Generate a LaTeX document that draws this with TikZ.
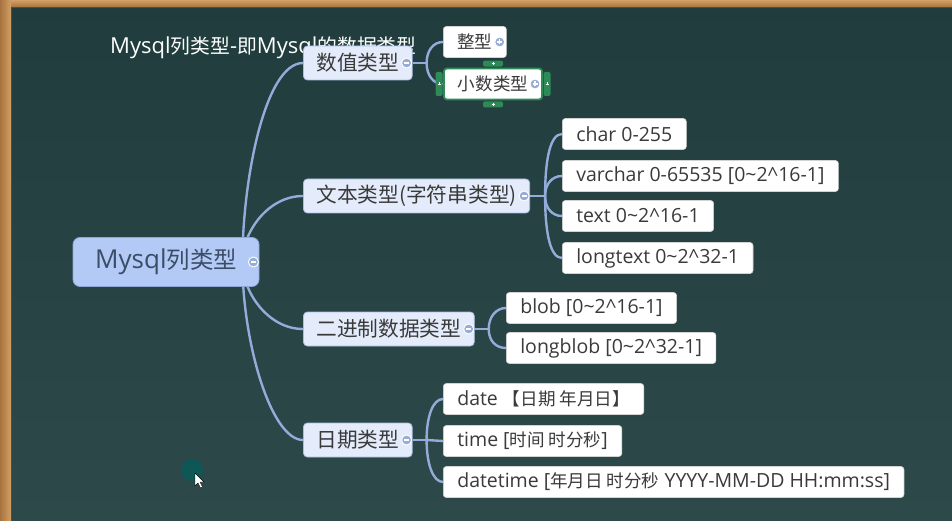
\documentclass[tikz,border=0pt]{standalone}
\usepackage{fontspec}
\setmainfont{Open Sans}
\newfontfamily\zhfont[Scale=0.9]{Noto Sans CJK SC}
\newcommand{\zh}[1]{{\zhfont #1}}
\usetikzlibrary{calc}

\pgfdeclarelayer{boardlayer}
\pgfdeclarelayer{linklayer}
\pgfsetlayers{boardlayer,linklayer,main}

\definecolor{board}{HTML}{2D4949}
\definecolor{boardtop}{HTML}{203C3D}
\definecolor{wood}{HTML}{A8733F}
\definecolor{woodlight}{HTML}{D2A066}
\definecolor{linkblue}{HTML}{93ACDA}
\definecolor{rootfill}{HTML}{B2CAF5}
\definecolor{rootdraw}{HTML}{8EA8DA}
\definecolor{rootink}{HTML}{3C4D66}
\definecolor{midfill}{HTML}{E4ECFB}
\definecolor{middraw}{HTML}{A9BDE2}
\definecolor{foldblue}{HTML}{98ACD6}
\definecolor{selgreen}{HTML}{2E8B57}
\definecolor{inktext}{HTML}{3A3A3A}
\definecolor{dotteal}{HTML}{0F5757}

\begin{document}
\begin{tikzpicture}[x=1pt, y=-1pt,
    every node/.style={inner sep=0pt},
    rootbox/.style={draw=rootdraw, fill=rootfill, rounded corners=7pt, line width=0.8pt,
                    minimum width=186pt, minimum height=49pt, text=rootink,
                    font=\fontsize{26}{30}\selectfont},
    topic/.style={draw=middraw, fill=midfill, rounded corners=4pt, line width=0.8pt,
                  minimum height=34pt, inner xsep=13pt, text=inktext, anchor=west,
                  font=\fontsize{23}{26}\selectfont\zhfont},
    leaf/.style={draw=gray!35, fill=white, rounded corners=3pt, line width=0.6pt,
                 minimum height=31pt, inner xsep=14pt, text=inktext, anchor=west,
                 font=\fontsize{19.5}{22}\selectfont},
    branch/.style={draw=linkblue, line width=2.4pt},
    foldminus/.style={circle, fill=foldblue, draw=white, line width=0.9pt, minimum size=10pt,
                      text=white, node contents={\rule[-0.6pt]{5pt}{1.2pt}}},
    foldplus/.style={circle, fill=foldblue, draw=white, line width=0.9pt, minimum size=10pt,
                     text=white, node contents={\makebox[0pt]{\rule[-0.6pt]{5pt}{1.2pt}}\makebox[0pt]{\rule[-2.5pt]{1.2pt}{5pt}}}},
    seltab/.style={fill=selgreen, rounded corners=2pt, text=white,
                   node contents={\makebox[0pt]{\rule[-0.3pt]{3pt}{0.6pt}}\makebox[0pt]{\rule[-1.5pt]{0.6pt}{3pt}}}},
]
    \useasboundingbox (0,0) rectangle (952,521);

    % board and frame
    \begin{pgfonlayer}{boardlayer}
    \shade[top color=boardtop, bottom color=board] (0,0) rectangle (952,521);
    \shade[top color=woodlight, bottom color=wood] (0,0) rectangle (952,7);
    \shade[left color=wood, right color=woodlight] (0,0) rectangle (11,521);
    \draw[black!70, line width=1pt] (11.5,7.5) -- (952,7.5);
    \draw[black!70, line width=1pt] (11.5,7.5) -- (11.5,521);
    \fill[dotteal] (192,470) circle (11);
    \end{pgfonlayer}

    \node[anchor=west, text=white, font=\fontsize{22}{24}\selectfont] (title) at (110,48)
        {Mysql\zh{列类型}-\zh{即}Mysql\zh{的数据类型}};

    % nodes
    \node[rootbox] (root) at (166,262) {Mysql\zh{列类型}};

    \node[topic] (num) at (303,63) {数值类型};
    \node[topic] (str) at (303,196) {文本类型(字符串类型)};
    \node[topic] (bin) at (303,329) {二进制数据类型};
    \node[topic] (date) at (303,440) {日期类型};

    \node[leaf] (int) at (443,42) {\zh{整型}\hspace{4pt}};
    \node[leaf, draw=selgreen, line width=1.8pt] (dec) at (443,84) {\zh{小数类型}\hspace{6pt}};

    \node[leaf] (char) at (562,134) {char 0-255};
    \node[leaf] (varchar) at (562,176) {varchar 0-65535 [0\textasciitilde 2\textasciicircum 16-1]};
    \node[leaf] (text) at (562,216) {text 0\textasciitilde 2\textasciicircum 16-1};
    \node[leaf] (longtext) at (562,258) {longtext 0\textasciitilde 2\textasciicircum 32-1};

    \node[leaf] (blob) at (506,308) {blob [0\textasciitilde 2\textasciicircum 16-1]};
    \node[leaf] (longblob) at (506,348) {longblob [0\textasciitilde 2\textasciicircum 32-1]};

    \node[leaf] (dday) at (443,399) {date \zh{【日期 年月日】}};
    \node[leaf] (dtime) at (443,441) {time [\zh{时间 时分秒}]};
    \node[leaf] (ddatetime) at (443,482) {datetime [\zh{年月日 时分秒} YYYY-MM-DD HH:mm:ss]};

    % fold buttons
    \node (froot) at ($(root.east)+(-6,0)$) [foldminus];
    \node (fnum) at ($(num.east)+(-6,0)$) [foldminus];
    \node (fstr) at ($(str.east)+(-6,0)$) [foldminus];
    \node (fbin) at ($(bin.east)+(-6,0)$) [foldminus];
    \node (fdate) at ($(date.east)+(-6,0)$) [foldminus];
    \node (fint) at ($(int.east)+(-7,0)$) [foldplus];
    \node (fdec) at ($(dec.east)+(-8,0)$) [foldplus];

    % selection handles
    \node (tabn) at ($(dec.north)+(0,-4)$) [seltab, minimum width=20pt, minimum height=6pt];
    \node (tabs) at ($(dec.south)+(0,4)$) [seltab, minimum width=20pt, minimum height=6pt];
    \node (tabw) at ($(dec.west)+(-4,0)$) [seltab, minimum width=7pt, minimum height=24pt];
    \node (tabe) at ($(dec.east)+(4,0)$) [seltab, minimum width=7pt, minimum height=24pt];

    % connectors
    \coordinate (hub) at ($(root.east)+(-17,0)$);
    \coordinate (jnum) at ($(num.east)+(14,0)$);
    \coordinate (jstr) at ($(str.east)+(15,0)$);
    \coordinate (jbin) at ($(bin.east)+(14,0)$);
    \coordinate (jdate) at ($(date.east)+(14,0)$);
    \begin{pgfonlayer}{linklayer}
    \draw[branch] (hub) .. controls +(0,-82) and +(-38,0) .. (num.west);
    \draw[branch] (hub) .. controls +(0,-30) and +(-35,0) .. (str.west);
    \draw[branch] (hub) .. controls +(0,30) and +(-35,0) .. (bin.west);
    \draw[branch] (hub) .. controls +(0,80) and +(-32,0) .. (date.west);

    \draw[branch] (num.east) -- (jnum);
    \draw[branch] (jnum) .. controls +(0,-12) and +(-10,0) .. (int.west);
    \draw[branch] (jnum) .. controls +(0,12) and +(-10,0) .. (dec.west);

    \draw[branch] (str.east) -- (jstr);
    \draw[branch] (jstr) .. controls +(0,-36) and +(-12,0) .. (char.west);
    \draw[branch] (jstr) .. controls +(0,-12) and +(-10,0) .. (varchar.west);
    \draw[branch] (jstr) .. controls +(0,12) and +(-10,0) .. (text.west);
    \draw[branch] (jstr) .. controls +(0,36) and +(-12,0) .. (longtext.west);

    \draw[branch] (bin.east) -- (jbin);
    \draw[branch] (jbin) .. controls +(0,-12) and +(-10,0) .. (blob.west);
    \draw[branch] (jbin) .. controls +(0,12) and +(-10,0) .. (longblob.west);

    \draw[branch] (date.east) -- (jdate);
    \draw[branch] (jdate) .. controls +(0,-24) and +(-10,0) .. (dday.west);
    \draw[branch] (jdate) -- (dtime.west);
    \draw[branch] (jdate) .. controls +(0,24) and +(-10,0) .. (ddatetime.west);
    \end{pgfonlayer}

    % pointer
    \filldraw[fill=white, draw=black, line width=0.4pt] (195,473) -- (195,486) -- (198,483)
        -- (200.5,488) -- (202.5,487) -- (200,482) -- (204,482) -- cycle;
\end{tikzpicture}
\end{document}
